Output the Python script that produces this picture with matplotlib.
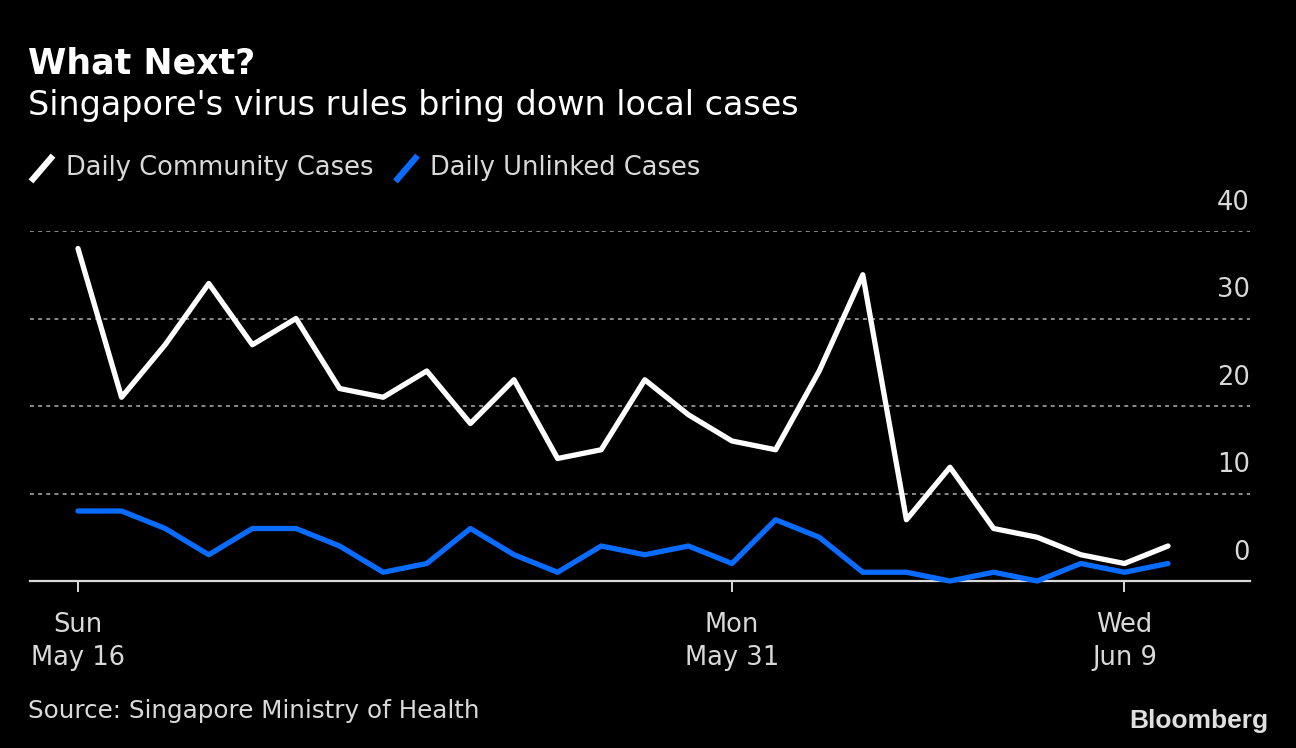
import matplotlib
matplotlib.use("Agg")
import matplotlib.pyplot as plt
import matplotlib.dates as mdates
from matplotlib.lines import Line2D
import pandas as pd
import numpy as np

dates = pd.date_range("2021-05-16", "2021-06-10", freq="D")
community = [38, 21, 27, 34, 27, 30, 22, 21, 24, 18, 23, 14, 15, 23, 19, 16,
             15, 24, 35, 7, 13, 6, 5, 3, 2, 4]
unlinked = [8, 8, 6, 3, 6, 6, 4, 1, 2, 6, 3, 1, 4, 3, 4, 2,
            7, 5, 1, 1, 0, 1, 0, 2, 1, 2]
yticks = [0, 10, 20, 30, 40]
xtick_dates = pd.to_datetime(["2021-05-16", "2021-05-31", "2021-06-09"])
xtick_labels = ["Sun\nMay 16", "Mon\nMay 31", "Wed\nJun 9"]

title = "What Next?"
subtitle = "Singapore's virus rules bring down local cases"
series_names = ["Daily Community Cases", "Daily Unlinked Cases"]
source = "Source: Singapore Ministry of Health"

WHITE = "#ffffff"
BLUE = "#0a6cff"
LIGHT = "#d9d9d9"
FONT = "DejaVu Sans"
plt.rcParams["font.family"] = [FONT]

W, H = 1296, 748
fig = plt.figure(figsize=(W / 100, H / 100), dpi=100, facecolor="black")

def fx(px):
    return px / W

def fy(py):
    return 1 - py / H

ax = fig.add_axes([fx(30), fy(581), fx(1250) - fx(30), fy(231) - fy(581)])
ax.set_facecolor("black")

ax.plot(dates, community, color=WHITE, lw=3.8, solid_joinstyle="round",
        solid_capstyle="round", clip_on=False, zorder=4)
ax.plot(dates, unlinked, color=BLUE, lw=3.8, solid_joinstyle="round",
        solid_capstyle="round", clip_on=False, zorder=5)

day = pd.Timedelta(days=1)
ax.set_xlim(dates[0] - 1.1 * day, dates[-1] + 1.88 * day)
ax.set_ylim(0, 40)

for s in ["top", "right", "left"]:
    ax.spines[s].set_visible(False)
ax.spines["bottom"].set_color(LIGHT)
ax.spines["bottom"].set_linewidth(1.6)
ax.spines["bottom"].set_zorder(3)

for v in yticks[1:]:
    ax.axhline(v, color="#8a8a8a", lw=1.4, ls=(0, (2, 2.2)), zorder=1)
ax.set_yticks([])
for v in yticks:
    ax.annotate(str(v), xy=(1.0, v), xycoords=ax.get_yaxis_transform(),
                xytext=(0, 11), textcoords="offset points",
                ha="right", va="bottom", color=LIGHT, fontsize=18.5)

ax.set_xticks(xtick_dates)
ax.set_xticklabels(xtick_labels, color=LIGHT, fontsize=18.5, linespacing=1.35)
ax.tick_params(axis="x", length=8, width=1.4, color=LIGHT, pad=14)

fig.text(fx(28), fy(64), title, color=WHITE, fontsize=25, fontweight="bold",
         va="center", ha="left")
fig.text(fx(28), fy(106), subtitle, color=WHITE, fontsize=24,
         va="center", ha="left")

# legend
lx = 33
for name, col in zip(series_names, [WHITE, BLUE]):
    fig.add_artist(Line2D([fx(lx), fx(lx + 18)], [fy(179), fy(158)], color=col,
                          lw=4.5, transform=fig.transFigure))
    t = fig.text(fx(lx + 33), fy(168), name, color=LIGHT, fontsize=18.5,
                 va="center", ha="left")
    fig.canvas.draw()
    bb = t.get_window_extent()
    lx = bb.x1 + 24

fig.text(fx(28), fy(711), source, color=LIGHT, fontsize=17.7,
         va="center", ha="left")
fig.text(fx(1268), fy(721), "Bloomberg", color="#e0e0e0", fontsize=19,
         fontweight="bold", family="Liberation Sans", va="center", ha="right")

fig.savefig("out.png", dpi=100, facecolor="black")
